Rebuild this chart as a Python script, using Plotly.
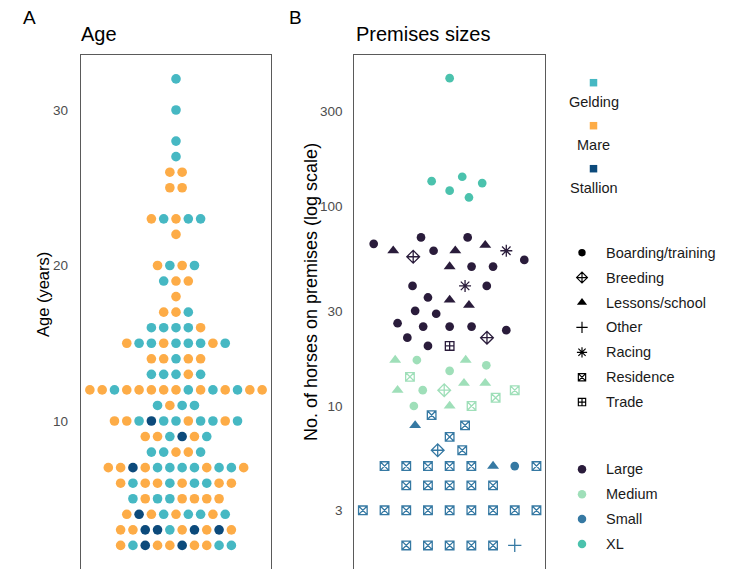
import plotly.graph_objects as go

W, H = 729, 569
FONT = "Liberation Sans, Arial, sans-serif"

# ---------------- Panel A: horse age by sex ----------------
ages = [32, 30, 28, 27, 26, 25, 23, 22, 20, 19, 18, 17, 16, 15, 14, 13, 12, 11,
        10, 9, 8, 7, 6, 5, 4, 3, 2]
# sex of each horse in the age row, left to right (G = gelding, M = mare, S = stallion)
sex_rows = ["G", "G", "G", "G", "MM", "MM", "MGMGG", "M", "MGMG", "GMM", "M", "MMG",
            "GGGGM", "MGGMGGGMG", "MMGMM", "GGGMG", "MMGMMMMMGMGMGMM", "GMGG",
            "MMGSGGMGGMG", "MMGSMG", "GGMMG", "MMSMGGGGMGGM", "MGMMGMGGMM",
            "GMGGMMMM", "MSMGMGGMG", "MMSSGMSMSM", "MGSMMSMMGG"]
sex_names = {"G": "Gelding", "M": "Mare", "S": "Stallion"}
sex_colors = {"Gelding": "#46b8c3", "Mare": "#fdac47", "Stallion": "#0c4a7b"}

# ---------------- Panel B: premises size ----------------
size_classes = ["Large", "Medium", "Small", "XL"]
size_colors = {"Large": "#2a1c3b", "Medium": "#9fdfb9", "Small": "#3679a3", "XL": "#4bc2ad"}

large_horses = [65, 70, 70, 60, 56, 60, 60, 64, 60, 54, 50, 50, 50, 40, 40, 40, 35, 34,
                32, 30, 29, 26, 25, 25, 25, 24, 22, 22, 20, 20]
large_purpose = ["BT", "BT", "BT", "LS", "BR", "BT", "LS", "LS", "RA", "BT", "LS", "BT",
                 "BT", "BT", "RA", "BT", "BT", "LS", "LS", "BT", "BT", "BT", "BT", "BT",
                 "BT", "BT", "BT", "BR", "BT", "TR"]
large_jitter = [-3.50, -1.32, 0.83, -2.60, -1.68, -0.74, 0.26, 1.64, 2.61, 3.44, 0.0, 1.01,
                2.00, -1.71, 0.71, 1.71, -1.00, 0.0, 0.89, -1.59, -0.62, -2.40, -1.22, 0.0,
                1.01, 2.61, -1.95, 1.72, -1.00, 0.0]

medium_horses = [17, 17, 17, 16, 15, 14, 12, 12, 12, 13, 13, 12, 11, 10, 10, 10]
medium_purpose = ["LS", "BT", "LS", "BT", "BT", "RE", "LS", "BT", "BR", "LS", "LS", "RE",
                  "RE", "BT", "LS", "RE"]
medium_jitter = [-2.51, -1.51, 0.74, 1.69, 0.0, -1.83, -2.40, -1.24, -0.25, 0.66, 1.64,
                 3.00, 2.12, -1.65, 0.0, 1.01]

small_horses = [9, 8, 8, 7, 6, 6,
                5, 5, 5, 5, 5, 5, 5, 5,
                4, 4, 4, 4, 4,
                3, 3, 3, 3, 3, 3, 3, 3, 3,
                2, 2, 2, 2, 2, 2]
small_purpose = ["RE", "LS", "RE", "RE", "BR", "RE",
                 "RE", "RE", "RE", "RE", "RE", "LS", "BT", "RE",
                 "RE", "RE", "RE", "RE", "RE",
                 "RE", "RE", "RE", "RE", "RE", "RE", "RE", "RE", "RE",
                 "RE", "RE", "RE", "RE", "RE", "OT"]
small_jitter = [-0.83, -1.59, 0.71, 0.0, -0.55, 0.58,
                -3, -2, -1, 0, 1, 2, 3, 4,
                -2, -1, 0, 1, 2,
                -4, -3, -2, -1, 0, 1, 2, 3, 4,
                -2, -1, 0, 1, 2, 3]

xl_horses = [440, 134, 141, 131, 120, 111]
xl_purpose = ["BT", "BT", "BT", "BT", "BT", "BT"]
xl_jitter = [0.0, -0.83, 0.58, 1.50, 0.0, 0.89]

purpose_labels = {"BT": "Boarding/training", "BR": "Breeding", "LS": "Lessons/school",
                  "OT": "Other", "RA": "Racing", "RE": "Residence", "TR": "Trade"}
purpose_order = ["BT", "BR", "LS", "OT", "RA", "RE", "TR"]
# symbol, marker size, stroke width
purpose_style = {
    "BT": ("circle", 8.7, 0),
    "BR": ("diamond-cross-open", 9.8, 1.3),
    "LS": ("triangle-up", 10.4, 0),
    "OT": ("cross-thin-open", 9.5, 1.3),
    "RA": ("asterisk-open", 10, 1.3),
    "RE": ("square-x-open", 8.6, 1.3),
    "TR": ("square-cross-open", 8.6, 1.3),
}

fig = go.Figure()

# ---- beeswarm rows for panel A (dots centred in each row) ----
for sex_key, sex_name in sex_names.items():
    xs, ys = [], []
    for age, row in zip(ages, sex_rows):
        n = len(row)
        for k, s in enumerate(row):
            if s == sex_key:
                xs.append(k - (n - 1) / 2)
                ys.append(age)
    fig.add_trace(go.Scatter(
        x=xs, y=ys, mode="markers", name=sex_name, showlegend=False,
        marker=dict(color=sex_colors[sex_name], size=9.6, opacity=1, line=dict(width=0)),
        xaxis="x", yaxis="y"))

# ---- panel B points ----
groups = {
    "Large": (large_horses, large_purpose, large_jitter),
    "Medium": (medium_horses, medium_purpose, medium_jitter),
    "Small": (small_horses, small_purpose, small_jitter),
    "XL": (xl_horses, xl_purpose, xl_jitter),
}
for cls in size_classes:
    horses, purposes, jit = groups[cls]
    sym = [purpose_style[p][0] for p in purposes]
    siz = [purpose_style[p][1] for p in purposes]
    lw = [purpose_style[p][2] for p in purposes]
    fig.add_trace(go.Scatter(
        x=jit, y=horses, mode="markers", name=cls, showlegend=False,
        marker=dict(color=size_colors[cls], symbol=sym, size=siz, opacity=1,
                    line=dict(width=lw, color=size_colors[cls])),
        xaxis="x2", yaxis="y2"))

# ---- legends, drawn on a full-page overlay axis in pixel units ----
def px(x, y):
    return x / W, 1 - y / H

annotations = []

def text(x, y, s, size=14.5, xanchor="left", color="#1a1a1a", angle=0):
    ax, ay = px(x, y)
    annotations.append(dict(x=ax, y=ay, xref="paper", yref="paper", text=s,
                            showarrow=False, xanchor=xanchor, yanchor="middle",
                            textangle=angle, font=dict(size=size, color=color, family=FONT)))

# sex legend: key above label
sex_key_y = [82.7, 125.7, 168.7]
sex_lab_y = [102, 145, 188]
for name, ky, ly in zip(sex_colors, sex_key_y, sex_lab_y):
    fig.add_trace(go.Scatter(x=[593.5], y=[ky], mode="markers", showlegend=False,
                             marker=dict(symbol="square", size=7.5, color=sex_colors[name]),
                             xaxis="x3", yaxis="y3", hoverinfo="skip"))
    text(593.5, ly, name, xanchor="center")

# purpose legend
for i, p in enumerate(purpose_order):
    y = 252.7 + i * 24.9
    sym, sz, lw = purpose_style[p]
    fig.add_trace(go.Scatter(x=[582], y=[y], mode="markers", showlegend=False,
                             marker=dict(symbol=sym, size=sz * 0.85, color="black",
                                         line=dict(width=lw * 0.9, color="black")),
                             xaxis="x3", yaxis="y3", hoverinfo="skip"))
    text(603.5, y, purpose_labels[p])

# size legend
for i, cls in enumerate(size_classes):
    y = 469.3 + i * 24.9
    fig.add_trace(go.Scatter(x=[582], y=[y], mode="markers", showlegend=False,
                             marker=dict(symbol="circle", size=8.5, color=size_colors[cls]),
                             xaxis="x3", yaxis="y3", hoverinfo="skip"))
    text(603.5, y, cls)

# titles, panel tags and axis titles
text(29, 17, "A", size=19, xanchor="center", color="black")
text(295, 17, "B", size=19, xanchor="center", color="black")
text(79, 34.5, "Age", size=20, color="black")
text(354, 34.5, "Premises sizes", size=20, color="black")
text(43, 295, "Age (years)", size=16.5, xanchor="center", color="black", angle=-90)
text(311, 292, "No. of horses on premises (log scale)", size=18, xanchor="center",
     color="black", angle=-90)

top = 1 - 55 / H
frame = dict(showline=True, linecolor="#5a5a5a", linewidth=1.3, mirror=True,
             showgrid=False, zeroline=False)
tickfont = dict(size=13.5, color="#4d4d4d", family=FONT)

fig.update_layout(
    width=W, height=H, margin=dict(l=0, r=0, t=0, b=0),
    paper_bgcolor="white", plot_bgcolor="rgba(0,0,0,0)", showlegend=False,
    font=dict(family=FONT),
    xaxis=dict(domain=[81 / W, 271 / W], range=[-7.72, 7.72], side="top", anchor="y",
               showticklabels=False, ticks="", showline=True, linecolor="#5a5a5a",
               linewidth=1.3, showgrid=False, zeroline=False),
    yaxis=dict(domain=[0, top], anchor="x", range=[30 - (H - 110) / 15.55, 30 + 55 / 15.55],
               tickvals=[10, 20, 30], ticks="outside", ticklen=9,
               tickcolor="rgba(0,0,0,0)", tickfont=tickfont, **frame),
    xaxis2=dict(domain=[354.3 / W, 545 / W], range=[-4.394, 4.394], side="top",
                anchor="y2", showticklabels=False, ticks="", showline=True,
                linecolor="#5a5a5a", linewidth=1.3, showgrid=False, zeroline=False),
    yaxis2=dict(domain=[0, top], anchor="x2", type="log",
                range=[2 - (H - 206.5) / 199.5, 2 + (206.5 - 55) / 199.5],
                tickvals=[3, 10, 30, 100, 300], ticktext=["3", "10", "30", "100", "300"],
                ticks="outside", ticklen=8, tickcolor="rgba(0,0,0,0)",
                tickfont=tickfont, **frame),
    xaxis3=dict(domain=[0, 1], anchor="y3", range=[0, W], visible=False),
    yaxis3=dict(domain=[0, 1], anchor="x3", range=[H, 0], visible=False),
    annotations=annotations,
)

fig.write_html("out.html")
